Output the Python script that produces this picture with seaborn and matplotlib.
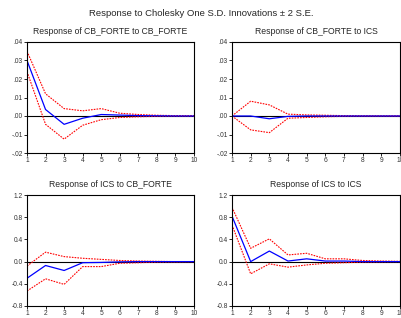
import matplotlib
matplotlib.use("Agg")
import matplotlib.pyplot as plt
import pandas as pd
import seaborn as sns

periods = list(range(1, 11))

# Response of CB_FORTE to CB_FORTE
cb_cb = [0.030, 0.0035, -0.0045, -0.0012, 0.0008, 0.0005, 0.0002, 0.0001, 0.0, 0.0]
cb_cb_up = [0.035, 0.012, 0.004, 0.0028, 0.004, 0.0015, 0.0008, 0.0004, 0.0002, 0.0001]
cb_cb_lo = [0.024, -0.0045, -0.0125, -0.005, -0.002, -0.0008, -0.0004, -0.0002, -0.0001, 0.0]

# Response of CB_FORTE to ICS
cb_ics = [0.0, 0.0, -0.0015, -0.0002, 0.0, 0.0, 0.0, 0.0, 0.0, 0.0]
cb_ics_up = [0.0, 0.008, 0.006, 0.001, 0.0006, 0.0004, 0.0002, 0.0001, 0.0, 0.0]
cb_ics_lo = [0.0, -0.0075, -0.009, -0.0012, -0.0008, -0.0004, -0.0002, -0.0001, 0.0, 0.0]

# Response of ICS to CB_FORTE
ics_cb = [-0.30, -0.07, -0.16, -0.02, -0.015, -0.005, 0.0, 0.0, 0.0, 0.0]
ics_cb_up = [-0.08, 0.17, 0.09, 0.06, 0.04, 0.02, 0.01, 0.005, 0.0, 0.0]
ics_cb_lo = [-0.53, -0.31, -0.41, -0.09, -0.09, -0.03, -0.02, -0.01, -0.005, 0.0]

# Response of ICS to ICS
ics_ics = [0.82, 0.0, 0.19, 0.01, 0.05, 0.01, 0.01, 0.0, 0.0, 0.0]
ics_ics_up = [0.98, 0.24, 0.41, 0.12, 0.15, 0.05, 0.05, 0.02, 0.01, 0.005]
ics_ics_lo = [0.66, -0.22, -0.04, -0.10, -0.06, -0.03, -0.02, -0.01, -0.005, 0.0]

panels = [
    ("Response of CB_FORTE to CB_FORTE", cb_cb, cb_cb_up, cb_cb_lo, "small"),
    ("Response of CB_FORTE to ICS", cb_ics, cb_ics_up, cb_ics_lo, "small"),
    ("Response of ICS to CB_FORTE", ics_cb, ics_cb_up, ics_cb_lo, "big"),
    ("Response of ICS to ICS", ics_ics, ics_ics_up, ics_ics_lo, "big"),
]
small_ticks = [-0.02, -0.01, 0.0, 0.01, 0.02, 0.03, 0.04]
small_labels = ["-.02", "-.01", ".00", ".01", ".02", ".03", ".04"]
big_ticks = [-0.8, -0.4, 0.0, 0.4, 0.8, 1.2]
big_labels = ["-0.8", "-0.4", "0.0", "0.4", "0.8", "1.2"]

sns.set_style("white")
plt.rcParams["font.family"] = ["Liberation Sans", "DejaVu Sans"]

fig = plt.figure(figsize=(4.02, 3.18), dpi=100)
W, H = 402, 318
boxes = [(27, 42, 194, 153), (232, 42, 400, 153), (27, 195, 194, 306), (232, 195, 400, 306)]

fig.text(0.5, 1 - 13 / H, "Response to Cholesky One S.D. Innovations \u00b1 2 S.E.",
         ha="center", va="center", fontsize=6.8)

for (title, resp, up, lo, kind), (x0, y0, x1, y1) in zip(panels, boxes):
    ax = fig.add_axes([x0 / W, 1 - y1 / H, (x1 - x0) / W, (y1 - y0) / H])
    df = pd.DataFrame({"period": periods, "resp": resp, "up": up, "lo": lo})
    ax.axhline(0, color="black", lw=0.8, zorder=1)
    sns.lineplot(data=df, x="period", y="up", ax=ax, color="red", lw=0.8, linestyle=(0, (1.5, 1)))
    sns.lineplot(data=df, x="period", y="lo", ax=ax, color="red", lw=0.8, linestyle=(0, (1.5, 1)))
    sns.lineplot(data=df, x="period", y="resp", ax=ax, color="blue", lw=0.9)
    ax.set_xlim(1, 10)
    ax.set_xticks(periods)
    if kind == "small":
        ax.set_ylim(-0.02, 0.04)
        ax.set_yticks(small_ticks)
        ax.set_yticklabels(small_labels)
    else:
        ax.set_ylim(-0.8, 1.2)
        ax.set_yticks(big_ticks)
        ax.set_yticklabels(big_labels)
    ax.set_xlabel("")
    ax.set_ylabel("")
    ax.set_title(title, fontsize=6.2, pad=6)
    ax.tick_params(axis="both", labelsize=4.8, length=2, width=0.6, direction="out", pad=1,
                   left=True, bottom=True, colors="black", labelcolor="#333333")
    for s in ax.spines.values():
        s.set_color("black")
        s.set_linewidth(0.8)

fig.savefig("out.png", dpi=100)
